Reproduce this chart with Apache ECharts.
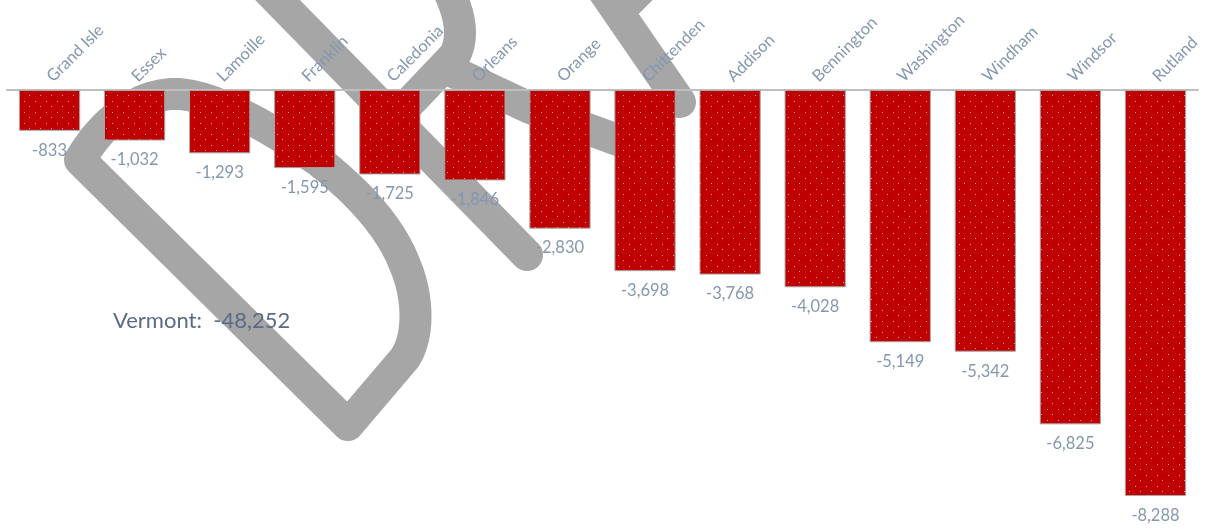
<!DOCTYPE html>
<html>
<head>
<meta charset="utf-8">
<script src="https://cdn.jsdelivr.net/npm/echarts@6/dist/echarts.min.js"></script>
<style>
html,body{margin:0;padding:0;background:#fff;}
#chart{width:1213px;height:529px;}
</style>
</head>
<body>
<div id="chart"></div>
<script>
// ---- data ----
const counties = ['Grand Isle','Essex','Lamoille','Franklin','Caledonia','Orleans','Orange','Chittenden','Addison','Bennington','Washington','Windham','Windsor','Rutland'];
const changes = [-833,-1032,-1293,-1595,-1725,-1846,-2830,-3698,-3768,-4028,-5149,-5342,-6825,-8288];
const stateName = 'Vermont';

// ---- helpers ----
const fmt = v => Number(v).toLocaleString('en-US');
const stateTotal = changes.reduce((a,b)=>a+b,0);

function makePattern(){
  const c = document.createElement('canvas');
  c.width = 11; c.height = 11;
  const g = c.getContext('2d');
  g.fillStyle = '#C00000';
  g.fillRect(0,0,11,11);
  g.fillStyle = '#A3B3CB';
  g.fillRect(2,2,1,1);
  g.fillRect(7,7,1,1);
  return c;
}

// watermark ("DRAFT" outline) - decorative strokes, sampled into polylines
function cubic(p0,p1,p2,p3,n){
  const out=[];
  for(let i=1;i<=n;i++){const t=i/n,u=1-t;
    out.push([u*u*u*p0[0]+3*u*u*t*p1[0]+3*u*t*t*p2[0]+t*t*t*p3[0],
              u*u*u*p0[1]+3*u*u*t*p1[1]+3*u*t*t*p2[1]+t*t*t*p3[1]]);}
  return out;
}
function quad(p0,p1,p2,n){
  const out=[];
  for(let i=1;i<=n;i++){const t=i/n,u=1-t;
    out.push([u*u*p0[0]+2*u*t*p1[0]+t*t*p2[0], u*u*p0[1]+2*u*t*p1[1]+t*t*p2[1]]);}
  return out;
}
const dPts = [[80,160],[348,425],[405,358]]
  .concat(cubic([405,358],[420,335],[418,295],[405,265],12))
  .concat(cubic([405,265],[390,225],[355,190],[320,162],12))
  .concat(cubic([320,162],[270,128],[220,98],[180,94],12))
  .concat(cubic([180,94],[140,92],[103,120],[80,160],12));
const rBowl = [[395,118],[455,55]].concat(quad([455,55],[470,25],[440,-25],12));
const wmLines = [
  dPts,
  [[258,-20],[527,255]],
  rBowl,
  [[445,68],[530,108],[645,150]],
  [[596,-20],[680,102]],
  [[628,2],[660,-30]]
];
const wmStyle = {fill:null, stroke:'#A6A6A6', lineWidth:32, lineCap:'round', lineJoin:'round'};

const chart = echarts.init(document.getElementById('chart'), null, {renderer:'canvas'});
chart.setOption({
  animation:false,
  backgroundColor:'#ffffff',
  title:{
    text: stateName + ':  ' + fmt(stateTotal),
    left:108, top:305,
    textStyle:{fontFamily:'Lato', fontSize:22, fontWeight:'normal', color:'#5B6B87'}
  },
  graphic:{
    elements: wmLines.map(pts => ({type:'polyline', z:-10, silent:true, shape:{points:pts}, style:wmStyle}))
  },
  grid:{left:7, right:15, top:90, bottom:27.5, containLabel:false},
  xAxis:{
    type:'category',
    data:counties,
    position:'top',
    axisTick:{show:false},
    axisLine:{show:true, lineStyle:{color:'#BFBFBF', width:2}},
    axisLabel:{rotate:45, interval:0, margin:11, color:'#8497B0', fontFamily:'Lato', fontSize:16.5}
  },
  yAxis:{
    type:'value', min:-8400, max:0, show:false,
    splitLine:{show:false}
  },
  series:[{
    type:'bar',
    data:changes,
    barCategoryGap:'28%',
    itemStyle:{
      color:{image:makePattern(), repeat:'repeat'},
      borderColor:'#A6A6A6', borderWidth:1
    },
    label:{
      show:true, position:'bottom', distance:11,
      color:'#8497B0', fontFamily:'Lato', fontSize:16.5,
      formatter: p => fmt(p.value)
    }
  }]
});
</script>
</body>
</html>
